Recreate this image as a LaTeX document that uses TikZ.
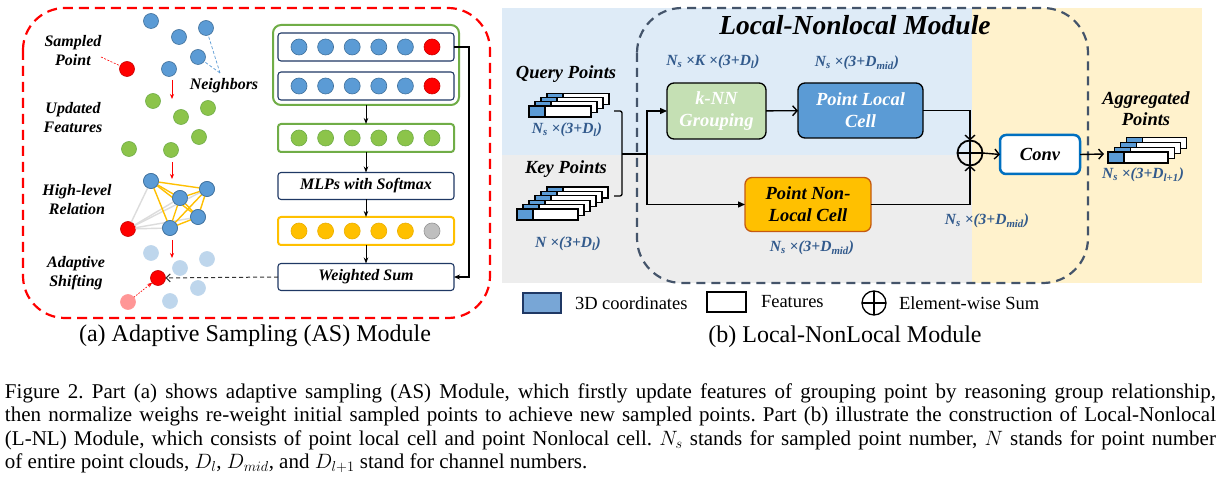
\documentclass[tikz,border=0pt]{standalone}
\usepackage{fontspec}
\setmainfont{Liberation Serif}
\usetikzlibrary{arrows.meta,calc}
\definecolor{cblue}{RGB}{91,155,213}
\definecolor{cblueD}{RGB}{65,113,156}
\definecolor{cgreen}{RGB}{140,196,74}
\definecolor{cgreenD}{RGB}{112,173,71}
\definecolor{cdred}{RGB}{200,0,0}
\definecolor{corange}{RGB}{255,192,0}
\definecolor{corangeD}{RGB}{235,175,0}
\definecolor{cgray}{RGB}{191,191,191}
\definecolor{cgrayD}{RGB}{150,150,150}
\definecolor{cfblue}{RGB}{190,214,236}
\definecolor{cfred}{RGB}{255,150,150}
\definecolor{navy}{RGB}{31,56,100}
\definecolor{bgblue}{RGB}{222,235,247}
\definecolor{bggray}{RGB}{237,237,237}
\definecolor{bgyellow}{RGB}{255,242,204}
\definecolor{dashgray}{RGB}{68,84,106}
\definecolor{lblue}{RGB}{50,90,140}
\definecolor{knn}{RGB}{197,224,180}
\definecolor{plc}{RGB}{91,155,213}
\definecolor{pnlcB}{RGB}{197,90,17}
\definecolor{convB}{RGB}{0,112,192}
\definecolor{legblue}{RGB}{120,166,214}
\definecolor{edgegray}{RGB}{220,220,220}
\newcommand\featlayer[3]{%
  \draw[line width=1.1pt,fill=white] ({#1},{#2}) rectangle ++(#3,11);
  \draw[line width=1.1pt,fill=cblue] ({#1},{#2}) rectangle ++(16,11);}
\begin{document}
\frenchspacing
\begin{tikzpicture}[x=1pt,y=-1pt,
  every node/.style={inner sep=0pt,outer sep=0pt},
  dot/.style={circle,minimum size=15pt,line width=0.6pt},
  bdot/.style={dot,fill=cblue,draw=cblueD},
  gdot/.style={dot,fill=cgreen,draw=cgreenD},
  rdot/.style={dot,fill=red,draw=cdred},
  odot/.style={dot,fill=corange,draw=corangeD},
  ydot/.style={dot,fill=cgray,draw=cgrayD},
  fdot/.style={dot,fill=cfblue,draw=cfblue},
  frdot/.style={dot,fill=cfred,draw=cfred},
  rowdot/.style={minimum size=16pt},
  bilab/.style={font=\fontsize{16}{19}\selectfont\bfseries\itshape,align=center},
  rowbox/.style={draw=navy,line width=1.1pt,rounded corners=3pt,minimum width=176pt,minimum height=28pt,fill=white},
  varr/.style={line width=1pt,-{Stealth[length=6pt,width=4.5pt]}},
  rarr/.style={red,line width=0.8pt,-{Stealth[length=5pt,width=4pt]}},
  barb/.style={line width=1.4pt,-{Straight Barb[length=4.5pt,width=10pt]}},
  tri/.style={line width=1.3pt,-{Triangle[length=7pt,width=6pt]}},
  blbl/.style={text=lblue,font=\fontsize{15.5}{18}\selectfont\bfseries\itshape},
  cell/.style={draw,line width=1.3pt,rounded corners=7pt,align=center,font=\fontsize{18.5}{22}\selectfont\bfseries\itshape},
  hd/.style={font=\fontsize{18.5}{21}\selectfont\bfseries\itshape,align=center},
  leg/.style={font=\fontsize{18.5}{22}\selectfont,anchor=west},
  capline/.style={anchor=base west,font=\fontsize{21}{23.3}\selectfont},
]
\useasboundingbox (0,0) rectangle (1221,494);
\fill[white] (0,0) rectangle (1221,494);

% ================= (a) Adaptive Sampling =================
\draw[red,line width=2.2pt,dash pattern=on 10pt off 6pt,rounded corners=42pt] (23,8) rectangle (490,318);

\node[bilab] (lsp) at (73,51) {Sampled\\Point};
\node[bilab] (luf) at (73,117.5) {Updated\\Features};
\node[bilab] (lhr) at (77,200) {High-level\\Relation};
\node[bilab] (las) at (76,273.5) {Adaptive\\Shifting};
\node[bilab] (lnb) at (224,86) {Neighbors};

% sampled point + neighbours
\node[bdot] (n1) at (151,21) {};
\node[bdot] (n2) at (179,37) {};
\node[bdot] (n3) at (206,28) {};
\node[bdot] (n4) at (198,57) {};
\node[bdot] (n5) at (169,69) {};
\node[rdot] (s0) at (127,69) {};
\coordinate (spt) at (101,57);
\draw[red,line width=0.6pt,dash pattern=on 2pt off 1.5pt] (spt) -- (s0);
\coordinate (nbt) at (220,73);
\draw[cblue,line width=0.7pt,dash pattern=on 3pt off 2pt] (nbt) -- (n3);
\draw[cblue,line width=0.7pt,dash pattern=on 3pt off 2pt] (nbt) -- (n4);

% updated features
\node[gdot] (g1) at (153,101) {};
\node[gdot] (g2) at (181,117) {};
\node[gdot] (g3) at (208,108) {};
\node[gdot] (g4) at (199,137) {};
\node[gdot] (g5) at (129,149) {};
\node[gdot] (g6) at (171,150) {};

% high-level relation
\node[bdot] (hA) at (151,181) {};
\node[bdot] (hB) at (180,198) {};
\node[bdot] (hC) at (207,189) {};
\node[bdot] (hD) at (198,217) {};
\node[bdot] (hE) at (170,228) {};
\node[rdot] (hR) at (128,229) {};
\foreach \t in {hA,hB,hC,hD,hE} \draw[edgegray,line width=1.4pt] (hR) -- (\t);
\foreach \a/\b in {hA/hB,hA/hC,hA/hD,hA/hE,hB/hC,hB/hD,hB/hE,hC/hD,hC/hE,hD/hE}
  \draw[corange,line width=1.4pt] (\a) -- (\b);
\foreach \t in {hA,hB,hC,hD,hE} \node[bdot] at (\t) {};

% adaptive shifting
\node[fdot] (f1) at (151,253) {};
\node[fdot] (f2) at (180,268) {};
\node[fdot] (f3) at (207,259) {};
\node[fdot] (f4) at (198,288) {};
\node[fdot] (f5) at (170,301) {};
\node[frdot] (fL) at (128,302) {};
\node[rdot] (fR) at (158,278) {};
\draw[red,line width=0.7pt,dash pattern=on 1.5pt off 1.5pt,-{Stealth[length=5pt,width=4pt]}] (fL) -- (fR);

% red step arrows
\coordinate (a1s) at (172,80);  \coordinate (a1e) at (172,99);
\coordinate (a2s) at (172,162); \coordinate (a2e) at (172,179);
\coordinate (a3s) at (172,240); \coordinate (a3e) at (172,258);
\draw[rarr] (a1s) -- (a1e);
\draw[rarr] (a2s) -- (a2e);
\draw[rarr] (a3s) -- (a3e);

% right column
\node[draw=cgreenD,line width=2pt,rounded corners=8pt,minimum width=186pt,minimum height=80pt] (grp) at (366,65) {};
\node[rowbox] (r1) at (366,47) {};
\node[rowbox] (r2) at (366,86) {};
\foreach \i in {0,...,4} {
  \node[bdot,rowdot] (r1c\i) at ({299+26.6*\i},47) {};
  \node[bdot,rowdot] (r2c\i) at ({299+26.6*\i},86) {};
}
\node[rdot,rowdot] (r1c5) at (432,47) {};
\node[rdot,rowdot] (r2c5) at (432,86) {};
\node[rowbox,draw=cgreenD,line width=2pt] (r3) at (366,138) {};
\foreach \i in {0,...,5} \node[gdot,rowdot] (r3c\i) at ({299+26.6*\i},138) {};
\node[rowbox,minimum height=27pt,font=\fontsize{16}{19}\selectfont\bfseries\itshape] (mlp) at (366,186) {MLPs with Softmax};
\node[rowbox,draw=corange,line width=2pt] (r4) at (366,231) {};
\foreach \i in {0,...,4} \node[odot,rowdot] (r4c\i) at ({299+26.6*\i},231) {};
\node[ydot,rowdot] (r4c5) at (432,231) {};
\node[rowbox,minimum height=27pt,font=\fontsize{16}{19}\selectfont\bfseries\itshape] (ws) at (366,277) {Weighted Sum};

\draw[varr] (grp.south) -- (r3.north);
\draw[varr] (r3.south) -- (mlp.north);
\draw[varr] (mlp.south) -- (r4.north);
\draw[varr] (r4.south) -- (ws.north);
\draw[line width=1.3pt,-{Stealth[length=6pt,width=5pt]}] (r1.east) -- ++(15,0) |- (ws.east);
\draw[black!80,line width=1pt,dash pattern=on 4pt off 3pt,-{Straight Barb[length=4pt,width=8pt]}] (ws.west) -- (fR);

\node[font=\fontsize{24}{28}\selectfont] (capa) at (255,336) {(a) Adaptive Sampling (AS) Module};

% ================= (b) Local-NonLocal =================
\fill[bgblue] (502,8) rectangle (972,155);
\fill[bggray] (502,155) rectangle (972,283);
\fill[bgyellow] (972,8) rectangle (1202,283);
\draw[dashgray,line width=2.2pt,dash pattern=on 9pt off 6pt,rounded corners=45pt] (637,8) rectangle (1088,283);

\node[font=\fontsize{27.5}{30}\selectfont\bfseries\itshape] (title) at (855,25) {Local-Nonlocal Module};

\node[cell,fill=knn,text=white,minimum width=99pt,minimum height=56pt] (knn) at (716.5,111) {k-NN\\Grouping};
\node[cell,fill=plc,text=white,minimum width=125pt,minimum height=55pt] (plc) at (860.5,110.5) {Point Local\\Cell};
\node[cell,fill=corange,draw=pnlcB,minimum width=126pt,minimum height=54pt] (pnlc) at (808,204.5) {Point Non-\\Local Cell};
\node[circle,draw,line width=1.8pt,minimum size=25pt] (sum) at (970,153) {};
\draw[line width=1.8pt] (sum.north) -- (sum.south) (sum.west) -- (sum.east);
\node[draw=convB,line width=2.5pt,rounded corners=6pt,fill=white,minimum width=80pt,minimum height=39pt,font=\fontsize{18.5}{22}\selectfont\bfseries\itshape] (conv) at (1040,154.5) {Conv};

% stacks
\foreach \k in {3,2,1,0} {\featlayer{529+6*\k}{106-4.3*\k}{62}}
\foreach \k in {5,4,3,2,1,0} {\featlayer{517+6*\k}{209-4.4*\k}{61}}
\foreach \k in {3,2,1,0} {\featlayer{1108+6.3*\k}{152-4.7*\k}{60}}

\node[hd] (qp) at (566,74) {Query Points};
\node[hd] (kp) at (566,169) {Key Points};
\node[hd] (ap) at (1146,108.5) {Aggregated\\Points};

\coordinate (qo) at (614,111);
\coordinate (ko) at (614,196);
\coordinate (jn) at (622,154);
\coordinate (spl) at (647,154);
\coordinate (ag) at (1104,154);
\draw[line width=1.3pt,rounded corners=2pt] (qo) -| (jn) |- (ko);
\draw[line width=1.3pt] (jn) -- (spl);
\draw[tri] (spl) |- (knn.west);
\draw[tri] (spl) |- (pnlc.west);
\draw[barb] (knn) -- (plc);
\draw[barb] (plc.east) -| (sum.north);
\draw[barb] (pnlc.east) -| (sum.south);
\draw[barb] (sum.east) -- (conv.west);
\draw[barb] (conv.east) -- (ag);

\node[blbl] (l1) at (713,62) {N\textsubscript{s} ×K ×(3+D\textsubscript{l})};
\node[blbl] (l2) at (857,63) {N\textsubscript{s} ×(3+D\textsubscript{mid})};
\node[blbl] (l3) at (567,130) {N\textsubscript{s} ×(3+D\textsubscript{l})};
\node[blbl] (l4) at (568,244) {N ×(3+D\textsubscript{l})};
\node[blbl] (l5) at (812,248) {N\textsubscript{s} ×(3+D\textsubscript{mid})};
\node[blbl] (l6) at (987,221) {N\textsubscript{s} ×(3+D\textsubscript{mid})};
\node[blbl] (l7) at (1143,175) {N\textsubscript{s} ×(3+D\textsubscript{l+1})};

% legend
\node[draw=navy,line width=1.2pt,fill=legblue,minimum width=38pt,minimum height=20pt] (lg1) at (542,303) {};
\node[leg] (lt1) at (575,303) {3D coordinates};
\node[draw,line width=1.2pt,fill=white,minimum width=39pt,minimum height=20pt] (lg2) at (726.5,302) {};
\node[leg] (lt2) at (761,302) {Features};
\node[circle,draw,line width=1.3pt,minimum size=24pt] (lg3) at (874,303) {};
\draw[line width=1.3pt] (lg3.north) -- (lg3.south) (lg3.west) -- (lg3.east);
\node[leg] (lt3) at (899,303) {Element-wise Sum};

\node[font=\fontsize{24}{28}\selectfont] (capb) at (845,337) {(b) Local-NonLocal Module};

% ================= figure caption =================
\node[capline] (c1) at (5,398) {\makebox[1211pt][s]{Figure 2. Part (a) shows adaptive sampling (AS) Module, which firstly update features of grouping point by reasoning group relationship,}};
\node[capline] (c2) at (5,421.5) {\makebox[1211pt][s]{then normalize weighs re-weight initial sampled points to achieve new sampled points. Part (b) illustrate the construction of Local-Nonlocal}};
\node[capline] (c3) at (5,445) {\makebox[1211pt][s]{(L-NL) Module, which consists of point local cell and point Nonlocal cell. $N_s$ stands for sampled point number, $N$ stands for point number}};
\node[capline] (c4) at (5,468.5) {of entire point clouds, $D_l$, $D_{mid}$, and $D_{l+1}$ stand for channel numbers.};
\end{tikzpicture}
\end{document}
